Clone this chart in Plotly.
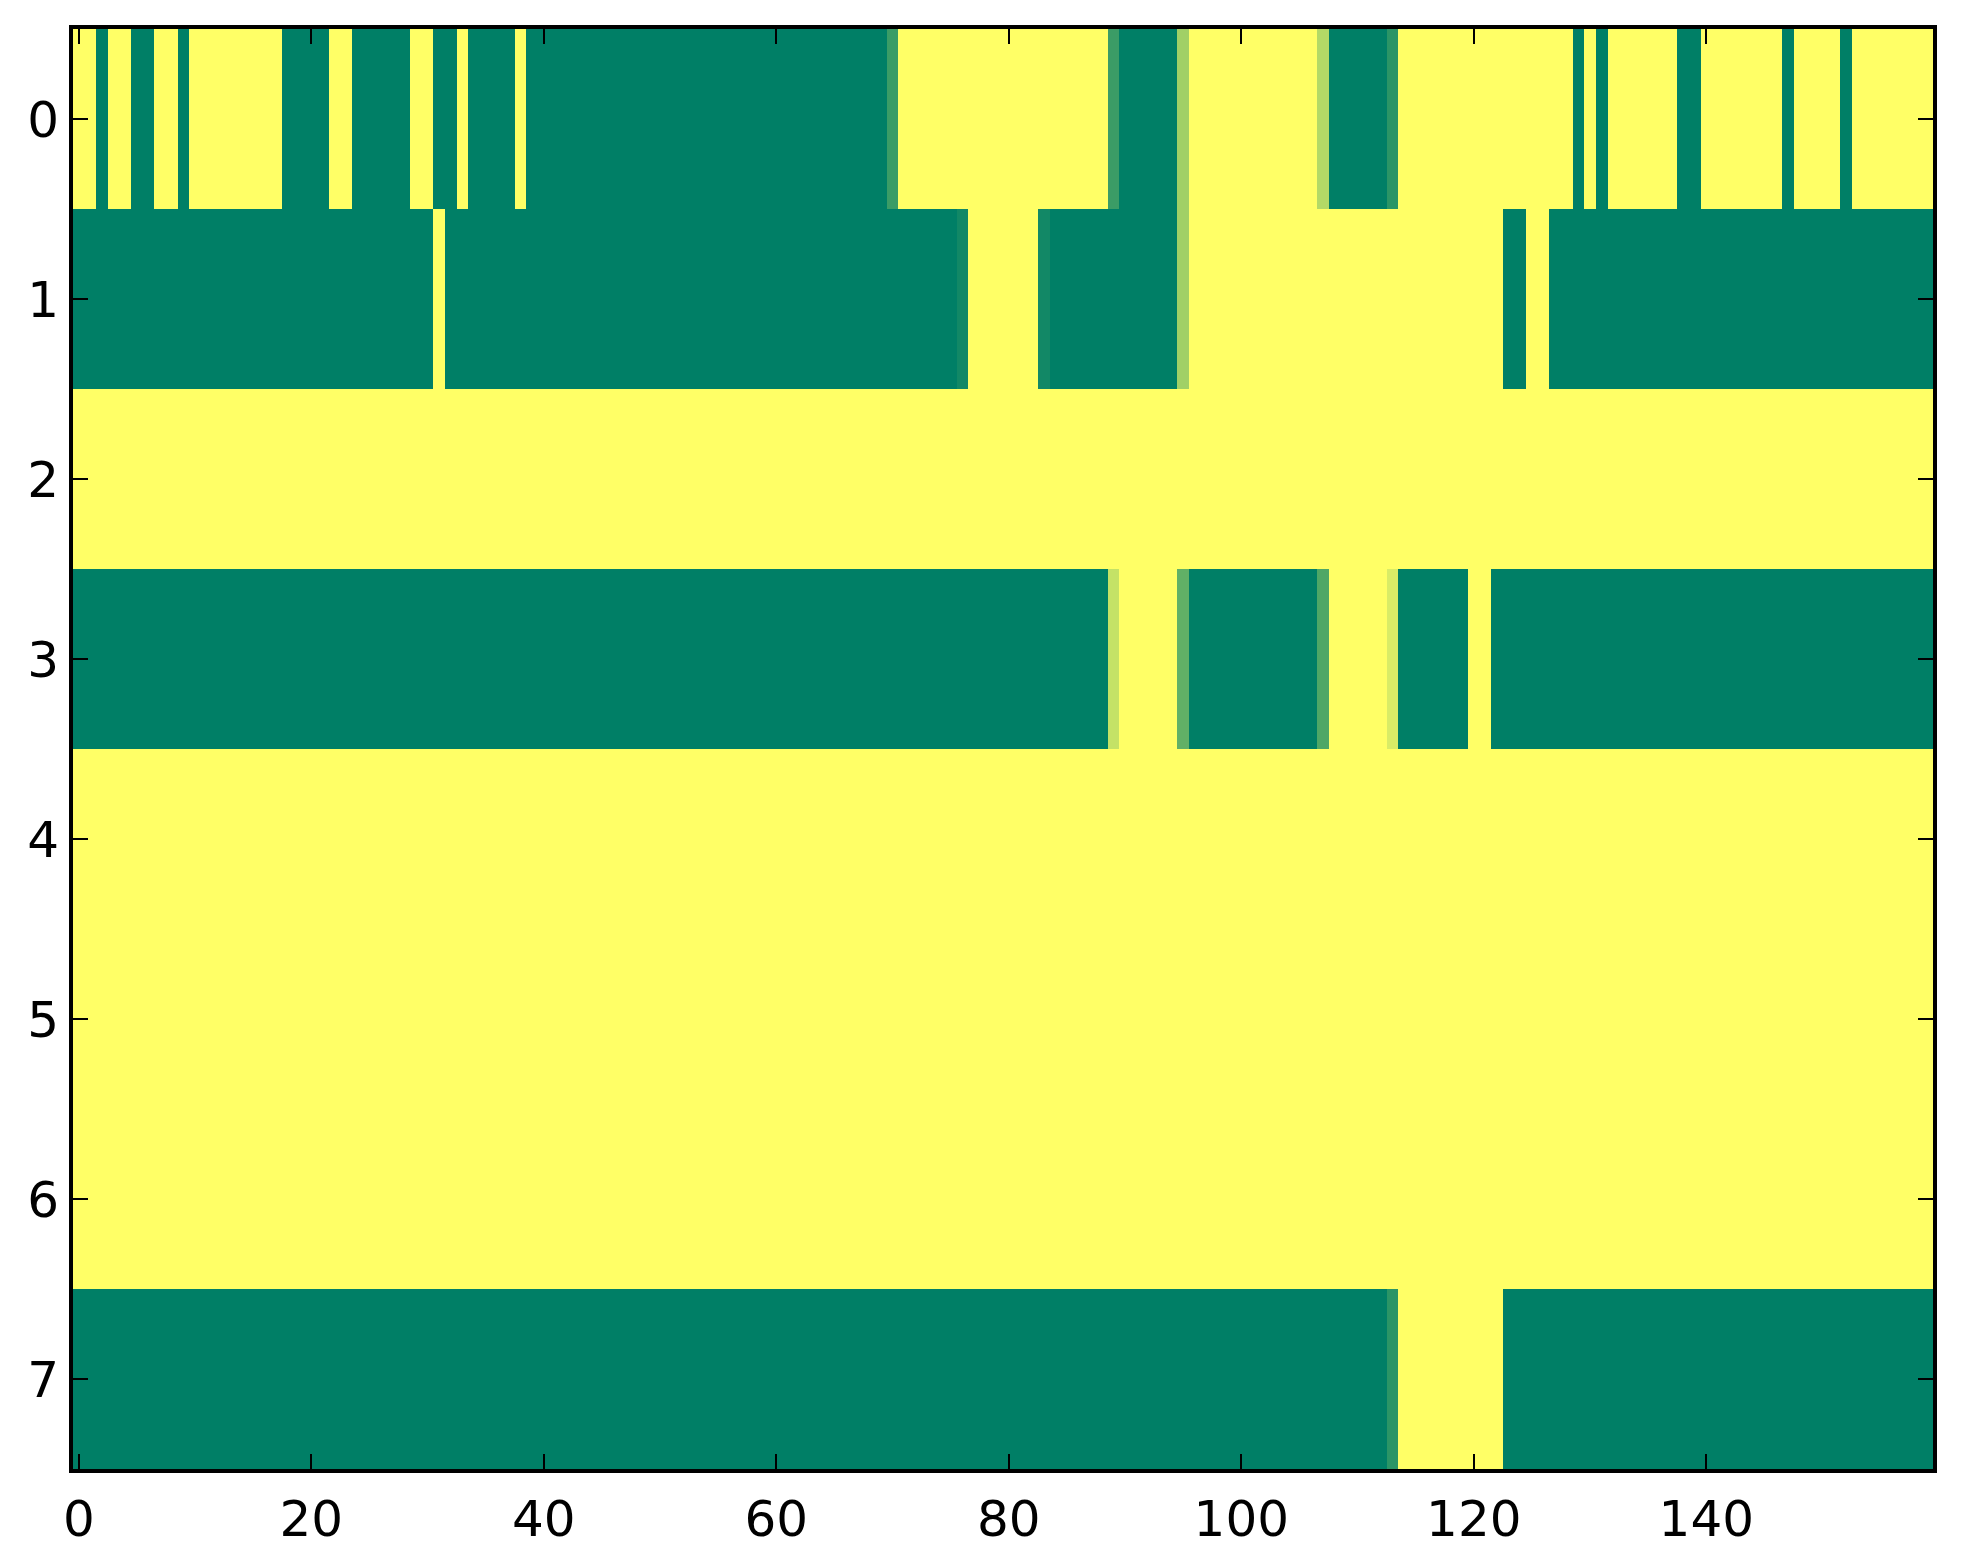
import plotly.graph_objects as go

# 8 rows x 160 columns, values 0..1 (summer colormap)
row_0 = [1, 1, 0, 1, 1, 0, 0, 1, 1, 0, 1, 1, 1, 1, 1, 1, 1, 1, 0, 0,
         0, 0, 1, 1, 0, 0, 0, 0, 0, 1, 1, 0, 0, 1, 0, 0, 0, 0, 1, 0,
         0, 0, 0, 0, 0, 0, 0, 0, 0, 0, 0, 0, 0, 0, 0, 0, 0, 0, 0, 0,
         0, 0, 0, 0, 0, 0, 0, 0, 0, 0, 0.23, 1, 1, 1, 1, 1, 1, 1, 1, 1,
         1, 1, 1, 1, 1, 1, 1, 1, 1, 0.23, 0, 0, 0, 0, 0, 0.63, 1, 1, 1, 1,
         1, 1, 1, 1, 1, 1, 1, 0.70, 0, 0, 0, 0, 0, 0.17, 1, 1, 1, 1, 1, 1,
         1, 1, 1, 1, 1, 1, 1, 1, 1, 0, 1, 0, 1, 1, 1, 1, 1, 1, 0, 0,
         1, 1, 1, 1, 1, 1, 1, 0, 1, 1, 1, 1, 0, 1, 1, 1, 1, 1, 1, 1]

row_1 = [0, 0, 0, 0, 0, 0, 0, 0, 0, 0, 0, 0, 0, 0, 0, 0, 0, 0, 0, 0,
         0, 0, 0, 0, 0, 0, 0, 0, 0, 0, 0, 1, 0, 0, 0, 0, 0, 0, 0, 0,
         0, 0, 0, 0, 0, 0, 0, 0, 0, 0, 0, 0, 0, 0, 0, 0, 0, 0, 0, 0,
         0, 0, 0, 0, 0, 0, 0, 0, 0, 0, 0, 0, 0, 0, 0, 0, 0.07, 1, 1, 1,
         1, 1, 1, 0.07, 0, 0, 0, 0, 0, 0, 0, 0, 0, 0, 0, 0.63, 1, 1, 1, 1,
         1, 1, 1, 1, 1, 1, 1, 1, 1, 1, 1, 1, 1, 1, 1, 1, 1, 1, 1, 1,
         1, 1, 1, 0, 0, 1, 1, 0, 0, 0, 0, 0, 0, 0, 0, 0, 0, 0, 0, 0,
         0, 0, 0, 0, 0, 0, 0, 0, 0, 0, 0, 0, 0, 0, 0, 0, 0, 0, 0, 0]

row_2 = [1, 1, 1, 1, 1, 1, 1, 1, 1, 1, 1, 1, 1, 1, 1, 1, 1, 1, 1, 1,
         1, 1, 1, 1, 1, 1, 1, 1, 1, 1, 1, 1, 1, 1, 1, 1, 1, 1, 1, 1,
         1, 1, 1, 1, 1, 1, 1, 1, 1, 1, 1, 1, 1, 1, 1, 1, 1, 1, 1, 1,
         1, 1, 1, 1, 1, 1, 1, 1, 1, 1, 1, 1, 1, 1, 1, 1, 1, 1, 1, 1,
         1, 1, 1, 1, 1, 1, 1, 1, 1, 1, 1, 1, 1, 1, 1, 1, 1, 1, 1, 1,
         1, 1, 1, 1, 1, 1, 1, 1, 1, 1, 1, 1, 1, 1, 1, 1, 1, 1, 1, 1,
         1, 1, 1, 1, 1, 1, 1, 1, 1, 1, 1, 1, 1, 1, 1, 1, 1, 1, 1, 1,
         1, 1, 1, 1, 1, 1, 1, 1, 1, 1, 1, 1, 1, 1, 1, 1, 1, 1, 1, 1]

row_3 = [0, 0, 0, 0, 0, 0, 0, 0, 0, 0, 0, 0, 0, 0, 0, 0, 0, 0, 0, 0,
         0, 0, 0, 0, 0, 0, 0, 0, 0, 0, 0, 0, 0, 0, 0, 0, 0, 0, 0, 0,
         0, 0, 0, 0, 0, 0, 0, 0, 0, 0, 0, 0, 0, 0, 0, 0, 0, 0, 0, 0,
         0, 0, 0, 0, 0, 0, 0, 0, 0, 0, 0, 0, 0, 0, 0, 0, 0, 0, 0, 0,
         0, 0, 0, 0, 0, 0, 0, 0, 0, 0.77, 1, 1, 1, 1, 1, 0.38, 0, 0, 0, 0,
         0, 0, 0, 0, 0, 0, 0, 0.31, 1, 1, 1, 1, 1, 0.85, 0, 0, 0, 0, 0, 0,
         1, 1, 0, 0, 0, 0, 0, 0, 0, 0, 0, 0, 0, 0, 0, 0, 0, 0, 0, 0,
         0, 0, 0, 0, 0, 0, 0, 0, 0, 0, 0, 0, 0, 0, 0, 0, 0, 0, 0, 0]

row_4 = list(row_2)
row_5 = list(row_2)
row_6 = list(row_2)

row_7 = [0, 0, 0, 0, 0, 0, 0, 0, 0, 0, 0, 0, 0, 0, 0, 0, 0, 0, 0, 0,
         0, 0, 0, 0, 0, 0, 0, 0, 0, 0, 0, 0, 0, 0, 0, 0, 0, 0, 0, 0,
         0, 0, 0, 0, 0, 0, 0, 0, 0, 0, 0, 0, 0, 0, 0, 0, 0, 0, 0, 0,
         0, 0, 0, 0, 0, 0, 0, 0, 0, 0, 0, 0, 0, 0, 0, 0, 0, 0, 0, 0,
         0, 0, 0, 0, 0, 0, 0, 0, 0, 0, 0, 0, 0, 0, 0, 0, 0, 0, 0, 0,
         0, 0, 0, 0, 0, 0, 0, 0, 0, 0, 0, 0, 0, 0.17, 1, 1, 1, 1, 1, 1,
         1, 1, 1, 0, 0, 0, 0, 0, 0, 0, 0, 0, 0, 0, 0, 0, 0, 0, 0, 0,
         0, 0, 0, 0, 0, 0, 0, 0, 0, 0, 0, 0, 0, 0, 0, 0, 0, 0, 0, 0]

rows = [row_0, row_1, row_2, row_3, row_4, row_5, row_6, row_7]
cols = list(range(160))
row_ids = list(range(8))
x_ticks = [0, 20, 40, 60, 80, 100, 120, 140]

# matplotlib "summer"
summer = [[0.0, "rgb(0,127,102)"], [1.0, "rgb(255,255,102)"]]

fig = go.Figure(go.Heatmap(
    z=rows,
    x=cols,
    y=row_ids,
    colorscale=summer,
    zmin=0,
    zmax=1,
    showscale=False,
    hoverinfo="skip"
))

axis_style = dict(
    showline=True,
    linecolor="black",
    linewidth=4,
    mirror="ticks",
    ticks="inside",
    ticklen=15,
    tickwidth=2,
    tickcolor="black",
    showgrid=False,
    zeroline=False,
    tickfont=dict(family="DejaVu Sans", size=50, color="black"),
)

fig.update_xaxes(range=[-0.5, 159.5], tickvals=x_ticks, ticklabelstandoff=3, **axis_style)
fig.update_yaxes(range=[7.5, -0.5], tickvals=row_ids, ticklabelstandoff=0, **axis_style)

# the page body adds 8px around the figure
fig.update_layout(
    width=1955,
    height=1556,
    margin=dict(l=65, r=30, t=21, b=95),
    paper_bgcolor="white",
    plot_bgcolor="white",
)

fig.write_html("out.html")
